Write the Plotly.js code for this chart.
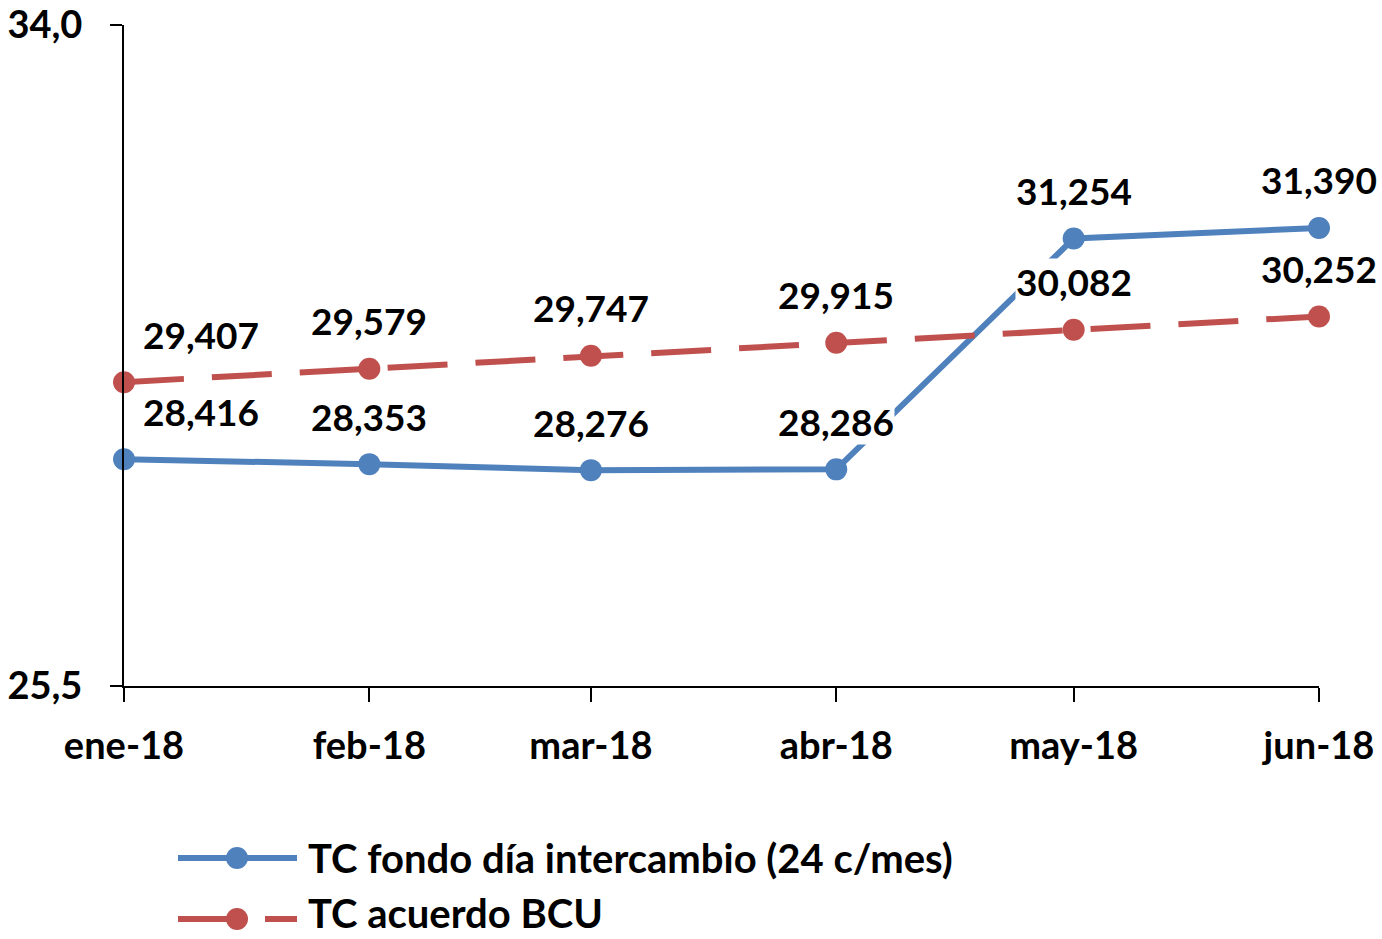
<!DOCTYPE html>
<html><head><meta charset="utf-8">
<script src="https://cdn.plot.ly/plotly-3.0.1.min.js"></script>
<style>html,body{margin:0;padding:0;background:#fff}#chart{width:1382px;height:939px}</style>
</head><body><div id="chart"></div>
<script>
const months = ['2018-01-01','2018-02-01','2018-03-01','2018-04-01','2018-05-01','2018-06-01'];
const monthLabels = ['ene-18','feb-18','mar-18','abr-18','may-18','jun-18'];
const fondo = [28.416, 28.353, 28.276, 28.286, 31.254, 31.390];
const bcu = [29.407, 29.579, 29.747, 29.915, 30.082, 30.252];
const yTicks = [25.5, 34.0];
const yTickLabels = ['25,5', '34,0'];
const seriesNames = ['TC fondo día intercambio (24 c/mes)', 'TC acuerdo BCU'];
const BLUE = '#4F81BD', RED = '#C0504D';
const FONT = 'Lato, "Open Sans", sans-serif';

function fmt(v){ return v.toFixed(3).replace('.', ','); }

const traces = [
  {x: months, y: fondo, name: seriesNames[0], mode: 'lines+markers', cliponaxis: false, showlegend:false,
   line: {color: BLUE, width: 6}, marker: {color: BLUE, size: 22}},
  {x: months, y: bcu, name: seriesNames[1], mode: 'lines+markers', cliponaxis: false, showlegend:false,
   line: {color: RED, width: 6, dash: '60px,28px'}, marker: {color: RED, size: 22}}
];

const annotations = [];
function addLabels(vals){
  vals.forEach((v,i)=>{
    annotations.push({x: months[i], y: v, xref:'x', yref:'y', text: fmt(v), showarrow:false,
      yshift: 48, xshift: i===0 ? 77 : 0, bgcolor:'white', borderpad: 0,
      font:{family: FONT, size: 37, color:'#000', weight: 700}});
  });
}
addLabels(fondo);
addLabels(bcu);

// legend (custom, pixel-to-paper)
const L = 124, R = 1319, T = 25, B = 686;
const px = v => (v - L) / (R - L);
const py = v => (B - v) / (B - T);
const shapes = [];
const legY = [858, 919];
const legColors = [BLUE, RED];
legY.forEach((yy, k)=>{
  if (k === 0) {
    shapes.push({type:'line', xref:'paper', yref:'paper', x0:px(178), x1:px(297), y0:py(yy), y1:py(yy), line:{color:legColors[k], width:6}});
  } else {
    shapes.push({type:'line', xref:'paper', yref:'paper', x0:px(178), x1:px(237), y0:py(yy), y1:py(yy), line:{color:legColors[k], width:6}});
    shapes.push({type:'line', xref:'paper', yref:'paper', x0:px(265), x1:px(297), y0:py(yy), y1:py(yy), line:{color:legColors[k], width:6}});
  }
  shapes.push({type:'circle', xref:'paper', yref:'paper', xsizemode:'pixel', ysizemode:'pixel',
    xanchor: px(237), yanchor: py(yy), x0:-11, x1:11, y0:-11, y1:11,
    fillcolor: legColors[k], line:{color: legColors[k], width:0}});
  const ann = {xref:'paper', yref:'paper', x: px(307), xanchor:'left',
    text: seriesNames[k], showarrow:false, borderpad:0, font:{family: FONT, size: 40, color:'#000', weight:700}};
  if (k === 0) { ann.y = py(yy); ann.yanchor = 'middle'; }
  else { ann.y = py(938); ann.yanchor = 'bottom'; }
  annotations.push(ann);
});

const layout = {
  width: 1382, height: 939,
  margin: {l: L, r: 1382 - R, t: T, b: 939 - B},
  paper_bgcolor: '#fff', plot_bgcolor: '#fff',
  showlegend: false,
  separators: ',.',
  xaxis: {type:'date', range: [months[0], months[months.length-1]], tickvals: months, ticktext: monthLabels,
    showgrid:false, zeroline:false, showline:true, linecolor:'#000', linewidth:2,
    ticks:'outside', ticklen:14, tickwidth:2, tickcolor:'#000', ticklabelstandoff: 11,
    tickfont:{family: FONT, size: 38, color:'#000', weight:700}},
  yaxis: {range:[25.5, 34], tickvals: yTicks, ticktext: yTickLabels,
    showgrid:false, zeroline:false, showline:true, linecolor:'#000', linewidth:2,
    ticks:'outside', ticklen:12, tickwidth:2, tickcolor:'#000', ticklabelstandoff: 20,
    tickfont:{family: FONT, size: 38, color:'#000', weight:700}},
  annotations: annotations,
  shapes: shapes
};

Plotly.newPlot('chart', traces, layout, {displayModeBar:false, staticPlot:true});
</script></body></html>
